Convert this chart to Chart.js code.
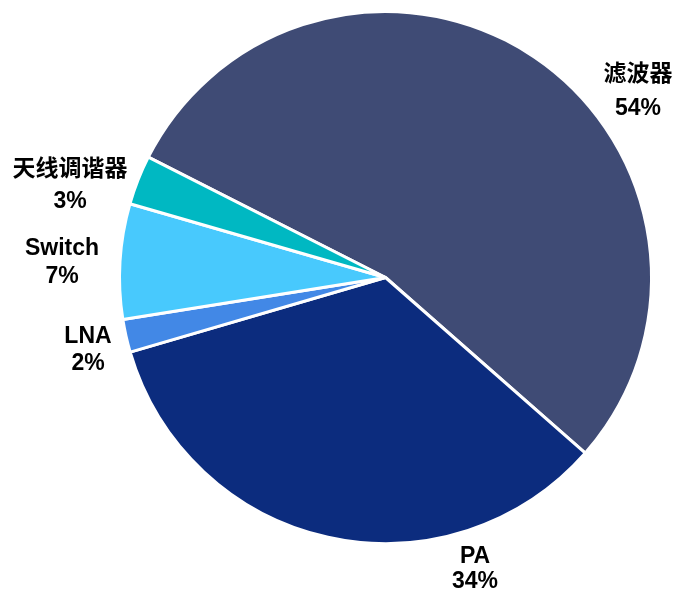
<!DOCTYPE html>
<html lang="zh">
  <head>
    <meta charset="UTF-8" />
    <title>射频前端市场构成</title>
    <script src="https://cdn.jsdelivr.net/npm/chart.js"></script>
    <style>
      html, body { margin: 0; padding: 0; background: #fff; }
    </style>
  </head>
  <body>
    <canvas id="pieChart" width="674" height="592"></canvas>
    <script>
      // data
      const parts = ["滤波器", "PA", "LNA", "Switch", "天线调谐器"];
      const shares = [54, 34, 2, 7, 3];
      const colors = ["#3f4b75", "#0c2c7e", "#4288e6", "#48c9fd", "#00b8c2"];

      // label layout: x centre, baseline of name, baseline of percent (px)
      const labelPos = [
        [638, 81, 115], [475, 563, 588], [88, 343, 370], [62, 255, 283], [70, 176, 208]
      ];

      const outsideLabels = {
        id: "outsideLabels",
        afterDraw(chart) {
          const ctx = chart.ctx;
          ctx.save();
          ctx.font = "bold 23px 'Liberation Sans', Arial, 'Noto Sans CJK SC', sans-serif";
          ctx.fillStyle = "#000";
          ctx.textAlign = "center";
          ctx.textBaseline = "alphabetic";
          parts.forEach((name, i) => {
            const [x, y1, y2] = labelPos[i];
            ctx.fillText(name, x, y1);
            ctx.fillText(shares[i] + "%", x, y2);
          });
          ctx.restore();
        },
      };

      new Chart(document.getElementById("pieChart"), {
        type: "pie",
        data: {
          labels: parts,
          datasets: [
            {
              data: shares,
              backgroundColor: colors,
              borderColor: "#fff",
              borderWidth: 3,
            },
          ],
        },
        options: {
          responsive: false,
          animation: false,
          rotation: 296.9,
          layout: {
            padding: { left: 118, right: 21, top: 10, bottom: 47 },
          },
          plugins: {
            legend: { display: false },
            tooltip: { enabled: false },
          },
        },
        plugins: [outsideLabels],
      });
    </script>
  </body>
</html>
